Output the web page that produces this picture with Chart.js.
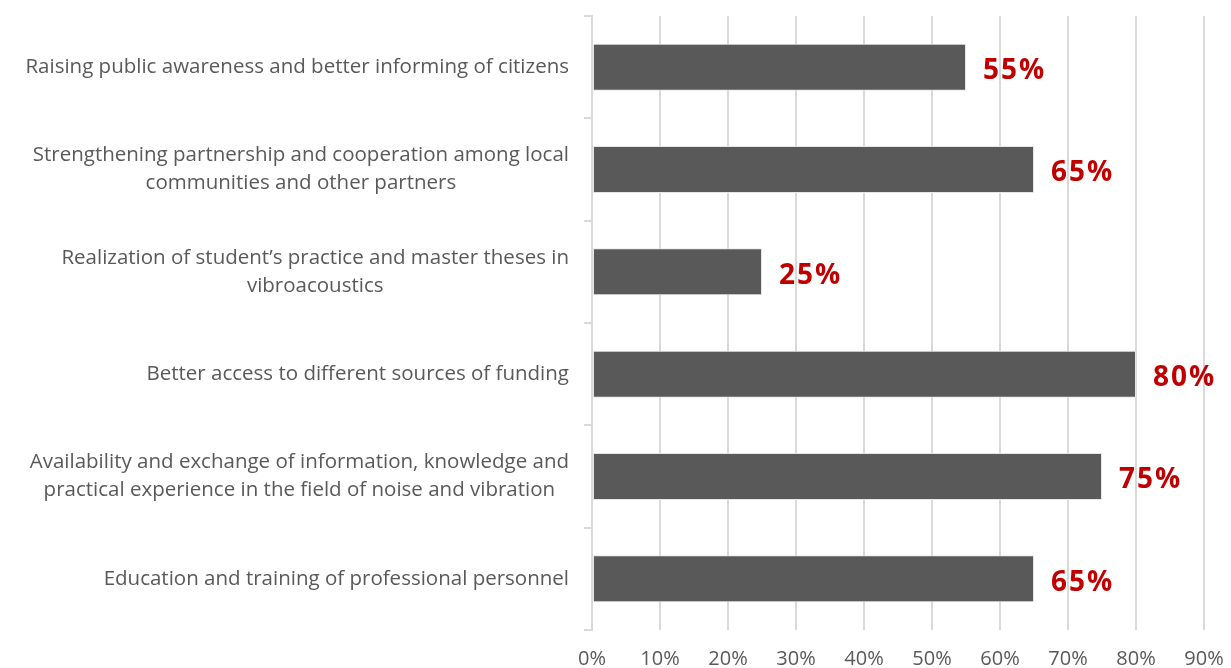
<!DOCTYPE html>
<html>
<head>
<meta charset="utf-8">
<script src="https://cdn.jsdelivr.net/npm/chart.js@4/dist/chart.umd.min.js"></script>
<style>
  html, body { margin: 0; padding: 0; background: #fff; }
  #wrap { width: 1231px; height: 668px; }
</style>
</head>
<body>
<div id="wrap"><canvas id="chart" width="1231" height="668"></canvas></div>
<script>
const categories = [
  ['Raising public awareness and better informing of citizens'],
  ['Strengthening partnership and cooperation among local', 'communities and other partners'],
  ['Realization of student\u2019s practice and master theses in', 'vibroacoustics'],
  ['Better access to different sources of funding'],
  ['Availability and exchange of information, knowledge and', 'practical experience in the field of noise and vibration'],
  ['Education and training of professional personnel']
];
const values = [55, 65, 25, 80, 75, 65];
const xTicks = [0, 10, 20, 30, 40, 50, 60, 70, 80, 90];

const FONT = '"Open Sans", Lato, sans-serif';
const GRID = '#d9d9d9';

// category labels: block right-aligned, lines centered inside block
const categoryLabels = {
  id: 'categoryLabels',
  afterDraw(c) {
    const y = c.scales.y;
    const ctx = c.ctx;
    ctx.save();
    ctx.font = '20.5px ' + FONT;
    ctx.fillStyle = '#595959';
    ctx.textAlign = 'center';
    ctx.textBaseline = 'middle';
    const right = 569, lh = 28;
    categories.forEach((lines, i) => {
      const w = Math.max(...lines.map((l) => ctx.measureText(l).width));
      const cx = right - w / 2;
      const cy = y.getPixelForValue(i);
      lines.forEach((l, k) => {
        ctx.fillText(l, cx, cy + (k - (lines.length - 1) / 2) * lh);
      });
    });
    ctx.restore();
  }
};

// red value labels at bar ends
const valueLabels = {
  id: 'valueLabels',
  afterDatasetsDraw(c) {
    const ctx = c.ctx;
    const meta = c.getDatasetMeta(0);
    ctx.save();
    ctx.font = 'bold 28px ' + FONT;
    ctx.letterSpacing = '2px';
    ctx.fillStyle = '#c00000';
    ctx.textAlign = 'left';
    ctx.textBaseline = 'middle';
    meta.data.forEach((bar, i) => {
      ctx.fillText(values[i] + '%', bar.x + 17, bar.y + 4);
    });
    ctx.restore();
  }
};

new Chart(document.getElementById('chart'), {
  type: 'bar',
  data: {
    labels: categories.map((l) => l.join(' ')),
    datasets: [{
      data: values,
      backgroundColor: '#595959',
      borderColor: '#e6e6e6',
      borderWidth: 1,
      borderSkipped: false,
      barPercentage: 0.46,
      categoryPercentage: 1
    }]
  },
  options: {
    indexAxis: 'y',
    responsive: false,
    animation: false,
    layout: { padding: { left: 0, right: 27, top: 16, bottom: 0 } },
    plugins: { legend: { display: false }, tooltip: { enabled: false } },
    scales: {
      x: {
        min: 0,
        max: 90,
        afterBuildTicks: (s) => { s.ticks = xTicks.map((v) => ({ value: v })); },
        ticks: {
          callback: (v) => v + '%',
          color: '#595959',
          font: { family: FONT, size: 20 },
          padding: 17,
          maxRotation: 0
        },
        grid: { color: GRID, lineWidth: 2, drawTicks: false },
        border: { display: false },
        afterFit: (s) => { s.height = 38; s.paddingLeft = 0; s.paddingRight = 0; }
      },
      y: {
        ticks: { display: false },
        grid: { offset: true, drawOnChartArea: false, drawTicks: true, tickLength: 8, color: GRID, lineWidth: 2 },
        border: { display: true, color: GRID, width: 2 },
        afterFit: (s) => { s.width = 592; }
      }
    }
  },
  plugins: [valueLabels, categoryLabels]
});
</script>
</body>
</html>
